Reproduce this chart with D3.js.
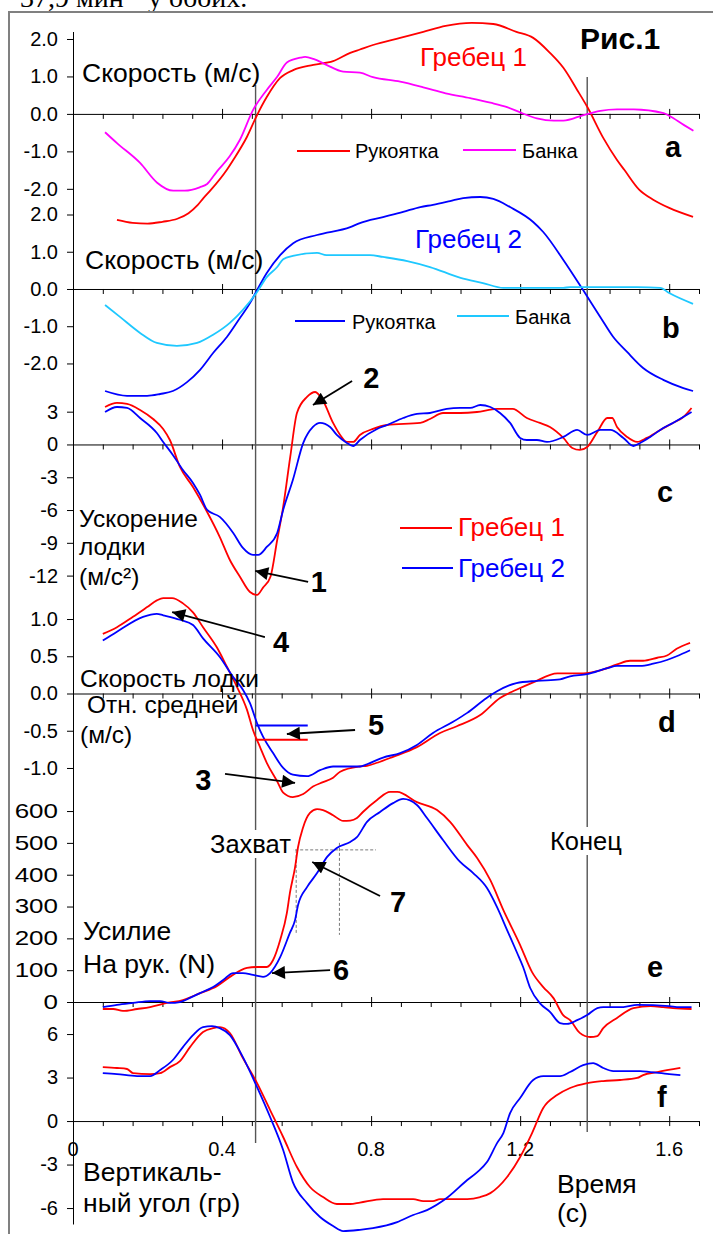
<!DOCTYPE html>
<html>
<head>
<meta charset="utf-8">
<script src="https://cdn.jsdelivr.net/npm/d3@7"></script>
<style>
  body { margin: 0; background: #fff; }
  svg { display: block; }
</style>
</head>
<body>
<svg id="chart" width="713" height="1234"></svg>
<script>
// ---- data: [time (s), value] ----
const handleSpeed1 = [[0.118,-2.83],[0.16,-2.91],[0.2,-2.93],[0.24,-2.88],[0.28,-2.8],[0.31,-2.65],[0.335,-2.43],[0.35,-2.25],[0.37,-2.03],[0.413,-1.49],[0.43,-1.23],[0.467,-0.61],[0.494,-0.03],[0.52,0.45],[0.556,0.96],[0.591,1.17],[0.645,1.31],[0.698,1.41],[0.744,1.63],[0.77,1.72],[0.805,1.84],[0.878,2.03],[0.94,2.19],[1.0,2.35],[1.07,2.43],[1.128,2.4],[1.19,2.19],[1.235,2.03],[1.28,1.63],[1.316,1.23],[1.353,0.64],[1.38,0.19],[1.423,-0.64],[1.46,-1.23],[1.48,-1.5],[1.52,-2.03],[1.557,-2.29],[1.6,-2.51],[1.664,-2.75]];
const seatSpeed1 = [[0.086,-0.49],[0.118,-0.78],[0.18,-1.31],[0.225,-1.83],[0.269,-2.05],[0.3,-2.05],[0.34,-1.96],[0.36,-1.87],[0.386,-1.54],[0.42,-1.14],[0.448,-0.69],[0.483,0.1],[0.52,0.64],[0.548,0.99],[0.574,1.37],[0.61,1.5],[0.623,1.52],[0.645,1.47],[0.68,1.31],[0.725,1.13],[0.77,1.1],[0.805,0.98],[0.878,0.86],[0.94,0.71],[1.0,0.55],[1.066,0.42],[1.12,0.3],[1.165,0.18],[1.2,0.04],[1.245,-0.12],[1.29,-0.18],[1.316,-0.18],[1.37,-0.03],[1.39,0.02],[1.415,0.08],[1.46,0.12],[1.505,0.12],[1.585,0.02],[1.6,-0.05],[1.64,-0.3],[1.665,-0.45]];
const handleSpeed2 = [[0.086,-2.74],[0.145,-2.87],[0.199,-2.87],[0.234,-2.82],[0.268,-2.74],[0.306,-2.5],[0.341,-2.17],[0.376,-1.72],[0.413,-1.29],[0.448,-0.78],[0.475,-0.38],[0.494,-0.03],[0.52,0.43],[0.556,0.91],[0.591,1.23],[0.655,1.45],[0.744,1.66],[0.77,1.77],[0.832,1.93],[0.886,2.07],[0.932,2.2],[0.966,2.26],[1.012,2.36],[1.047,2.44],[1.093,2.47],[1.128,2.42],[1.173,2.2],[1.235,1.8],[1.262,1.53],[1.316,0.78],[1.369,-0.03],[1.415,-0.75],[1.45,-1.29],[1.487,-1.69],[1.53,-2.12],[1.584,-2.44],[1.638,-2.66],[1.664,-2.74]];
const seatSpeed2 = [[0.086,-0.43],[0.126,-0.75],[0.18,-1.18],[0.225,-1.45],[0.279,-1.53],[0.333,-1.45],[0.376,-1.23],[0.421,-0.91],[0.456,-0.56],[0.494,-0.08],[0.52,0.32],[0.548,0.59],[0.564,0.8],[0.59,0.89],[0.655,0.97],[0.68,0.91],[0.77,0.91],[0.797,0.91],[0.832,0.86],[0.897,0.75],[0.958,0.59],[1.04,0.3],[1.1,0.16],[1.155,0.03],[1.316,0.03],[1.334,0.05],[1.514,0.05],[1.576,0.03],[1.6,-0.11],[1.664,-0.4]];
const boatAccel1 = [[0.086,3.43],[0.118,3.8],[0.145,3.71],[0.18,3.16],[0.215,2.33],[0.242,1.42],[0.26,0.41],[0.287,-2.06],[0.322,-3.89],[0.36,-6.18],[0.394,-8.47],[0.421,-10.57],[0.448,-12.1],[0.475,-13.5],[0.494,-13.77],[0.51,-13.1],[0.53,-12.1],[0.548,-8.74],[0.564,-5.72],[0.583,-1.14],[0.601,2.88],[0.628,4.35],[0.65,4.8],[0.67,4.07],[0.698,1.97],[0.717,0.87],[0.735,0.23],[0.752,0.23],[0.77,0.87],[0.805,1.42],[0.843,1.78],[0.932,1.97],[0.958,2.33],[0.993,2.88],[1.04,2.88],[1.084,2.97],[1.138,3.25],[1.18,3.25],[1.218,2.42],[1.253,1.97],[1.28,1.6],[1.316,0.6],[1.34,-0.32],[1.36,-0.5],[1.38,-0.23],[1.407,1.14],[1.434,2.42],[1.447,2.42],[1.46,1.6],[1.487,0.69],[1.514,0.23],[1.54,0.6],[1.576,1.33],[1.61,1.97],[1.638,2.51],[1.66,3.34]];
const boatAccel2 = [[0.086,2.97],[0.118,3.43],[0.145,3.34],[0.18,2.42],[0.225,1.05],[0.242,0.23],[0.268,-0.96],[0.295,-2.33],[0.322,-3.52],[0.341,-4.62],[0.36,-5.99],[0.394,-6.63],[0.43,-8.1],[0.456,-9.47],[0.483,-10.11],[0.497,-10.11],[0.52,-9.38],[0.548,-8.1],[0.564,-5.99],[0.59,-3.25],[0.618,0.14],[0.644,1.6],[0.663,1.97],[0.69,1.6],[0.708,0.87],[0.735,0.14],[0.752,-0.14],[0.77,0.41],[0.816,1.42],[0.843,1.78],[0.886,2.42],[0.923,2.79],[0.958,2.88],[1.003,3.25],[1.039,3.34],[1.066,3.34],[1.093,3.61],[1.12,3.43],[1.146,2.88],[1.173,1.97],[1.2,0.6],[1.218,0.41],[1.245,0.41],[1.272,0.23],[1.316,0.69],[1.353,1.33],[1.38,0.87],[1.415,1.33],[1.442,1.33],[1.477,0.6],[1.504,-0.14],[1.522,0.14],[1.549,0.69],[1.584,1.51],[1.61,1.97],[1.66,2.97]];
const boatSpeed1 = [[0.08,0.8],[0.118,0.89],[0.161,1.03],[0.199,1.16],[0.225,1.25],[0.242,1.28],[0.266,1.28],[0.295,1.21],[0.322,1.09],[0.349,0.89],[0.386,0.62],[0.413,0.36],[0.44,0.09],[0.467,-0.22],[0.483,-0.49],[0.502,-0.72],[0.52,-0.93],[0.548,-1.18],[0.564,-1.33],[0.59,-1.39],[0.618,-1.35],[0.644,-1.25],[0.671,-1.19],[0.698,-1.13],[0.717,-1.05],[0.77,-0.98],[0.789,-0.97],[0.816,-0.93],[0.859,-0.85],[0.923,-0.72],[0.985,-0.53],[1.03,-0.44],[1.093,-0.29],[1.146,-0.06],[1.19,0.05],[1.235,0.15],[1.3,0.27],[1.369,0.27],[1.415,0.31],[1.46,0.39],[1.495,0.44],[1.53,0.44],[1.568,0.48],[1.594,0.51],[1.62,0.6],[1.656,0.68]];
const boatSpeed2 = [[0.08,0.71],[0.118,0.83],[0.188,1.03],[0.225,1.07],[0.242,1.05],[0.287,0.99],[0.322,0.92],[0.349,0.74],[0.394,0.49],[0.43,0.22],[0.456,0.05],[0.475,-0.13],[0.494,-0.4],[0.51,-0.58],[0.537,-0.8],[0.564,-1.0],[0.59,-1.09],[0.628,-1.11],[0.663,-1.03],[0.698,-0.98],[0.77,-0.98],[0.789,-0.95],[0.832,-0.86],[0.878,-0.8],[0.923,-0.69],[0.966,-0.53],[1.02,-0.38],[1.058,-0.26],[1.11,-0.06],[1.138,0.03],[1.19,0.14],[1.245,0.17],[1.307,0.19],[1.334,0.23],[1.38,0.26],[1.434,0.34],[1.46,0.37],[1.522,0.37],[1.557,0.4],[1.594,0.45],[1.62,0.5],[1.656,0.58]];
const handleForce1 = [[0.08,-22],[0.108,-22],[0.134,-28],[0.172,-22],[0.207,-16],[0.252,-3],[0.295,6],[0.341,28],[0.386,50],[0.421,79],[0.467,107],[0.494,110],[0.52,110],[0.537,132],[0.556,195],[0.574,280],[0.582,342],[0.596,424],[0.604,487],[0.617,547],[0.636,594],[0.655,606],[0.671,603],[0.698,587],[0.725,569],[0.744,570],[0.762,578],[0.778,597],[0.816,635],[0.851,660],[0.87,660],[0.923,628],[0.977,603],[1.012,566],[1.058,493],[1.085,452],[1.12,383],[1.155,289],[1.2,179],[1.232,94],[1.262,47],[1.289,13],[1.316,-42],[1.334,-57],[1.36,-97],[1.388,-110],[1.407,-107],[1.423,-82],[1.46,-50],[1.504,-19],[1.55,-13],[1.584,-16],[1.61,-19],[1.66,-22]];
const handleForce2 = [[0.08,-16],[0.118,-9],[0.161,-3],[0.207,3],[0.234,3],[0.26,-3],[0.287,0],[0.314,13],[0.341,28],[0.376,47],[0.403,69],[0.43,91],[0.456,91],[0.483,85],[0.51,79],[0.529,91],[0.556,141],[0.582,217],[0.596,258],[0.604,305],[0.628,361],[0.655,405],[0.682,456],[0.708,484],[0.744,503],[0.762,518],[0.789,566],[0.824,597],[0.859,625],[0.886,638],[0.923,619],[0.95,578],[0.993,509],[1.039,440],[1.074,405],[1.111,358],[1.138,298],[1.165,226],[1.192,154],[1.208,110],[1.227,44],[1.254,-5],[1.28,-31],[1.307,-66],[1.326,-69],[1.353,-57],[1.38,-41],[1.407,-19],[1.423,-16],[1.477,-16],[1.514,-9],[1.6,-13],[1.628,-16],[1.66,-16]];
const vertAngle1 = [[0.08,3.72],[0.118,3.66],[0.145,3.59],[0.161,3.31],[0.207,3.24],[0.234,3.31],[0.26,3.72],[0.287,4.14],[0.314,5.1],[0.349,6.14],[0.376,6.41],[0.394,6.48],[0.421,6.07],[0.456,4.34],[0.494,2.62],[0.529,0.76],[0.564,-1.1],[0.601,-3.17],[0.636,-4.55],[0.671,-5.24],[0.708,-5.72],[0.744,-5.72],[0.77,-5.62],[0.832,-5.38],[0.913,-5.38],[0.94,-5.52],[0.966,-5.52],[0.985,-5.38],[1.058,-5.38],[1.093,-5.24],[1.12,-4.97],[1.165,-3.86],[1.2,-2.48],[1.232,-0.83],[1.262,0.9],[1.299,1.79],[1.334,2.28],[1.38,2.62],[1.423,2.76],[1.468,2.83],[1.514,2.97],[1.53,3.17],[1.568,3.38],[1.63,3.66]];
const vertAngle2 = [[0.08,3.31],[0.118,3.24],[0.172,3.1],[0.207,3.1],[0.234,3.52],[0.268,4.21],[0.295,5.1],[0.322,5.93],[0.349,6.48],[0.373,6.55],[0.394,6.41],[0.421,5.93],[0.456,4.41],[0.494,2.34],[0.529,0.28],[0.564,-2.0],[0.59,-4.21],[0.628,-5.66],[0.663,-6.62],[0.698,-7.24],[0.725,-7.59],[0.77,-7.5],[0.805,-7.38],[0.87,-6.97],[0.913,-6.48],[0.95,-6.14],[1.003,-5.31],[1.058,-4.07],[1.085,-3.52],[1.111,-2.83],[1.138,-1.52],[1.155,-0.83],[1.173,0.55],[1.2,1.59],[1.235,2.83],[1.262,3.1],[1.307,3.1],[1.334,3.38],[1.369,3.86],[1.396,4.0],[1.423,3.66],[1.45,3.45],[1.522,3.45],[1.549,3.38],[1.6,3.24],[1.63,3.17]];

// catch / finish moments, and the reference levels of mark 5 and mark 7
const catchTime = 0.49;
const finishTime = 1.38;
const catchSpeedDrop = [-0.62, -0.43];   // rower 1, rower 2
const forceLevel = 478;
const forceLevelTimes = [0.599, 0.715];

// ticks
const timeTicks = d3.range(0, 22).map(i => +(i * 0.08).toFixed(2));
const timeLabels = [0, 0.4, 0.8, 1.2, 1.6];
const speedTicks = [2, 1, 0, -1, -2];
const accelTicks = [3, 0, -3, -6, -9, -12];
const boatTicks = [1, 0.5, 0, -0.5, -1];
const forceTicks = [600, 500, 400, 300, 200, 100, 0];
const angleTicks = [6, 3, 0, -3, -6];

// ---- drawing ----
const FONT = "'Liberation Sans', Arial, sans-serif";
const RED = "#ff0000", MAGENTA = "#ff00ff", BLUE = "#0000ff", CYAN = "#1ec8ff";

const svg = d3.select("#chart").attr("font-family", FONT);

svg.append("defs").append("marker")
  .attr("id", "arrow")
  .attr("viewBox", "0 0 10 10")
  .attr("refX", 10).attr("refY", 5)
  .attr("markerUnits", "userSpaceOnUse")
  .attr("markerWidth", 16).attr("markerHeight", 13)
  .attr("orient", "auto")
  .append("path").attr("d", "M0,0L10,5L0,10Z").attr("fill", "#000");

// line of text above the frame (cut by the page edge in the original too)
svg.append("text")
  .attr("x", 20).attr("y", 7)
  .attr("font-family", "'Liberation Serif', 'Times New Roman', serif")
  .attr("font-size", 28)
  .text("37,9 мин⁻¹ у обоих.");

svg.append("path")
  .attr("d", "M9,1234V12H713")
  .attr("fill", "none").attr("stroke", "#808080").attr("stroke-width", 2);

const x = d3.scaleLinear().domain([0, 1.68]).range([73, 699]);

// hyphen-minus like the original, not the typographic minus
const fmt = spec => { const f = d3.format(spec); return v => f(v).replace("\u2212", "-"); };

const panels = [
  { id: "a", domain: [-3.5, 2.2], range: [245, 31.5], ticks: speedTicks, fmt: fmt(".1f"),
    series: [{ data: handleSpeed1, color: RED }, { data: seatSpeed1, color: MAGENTA }] },
  { id: "b", domain: [-3.0, 2.25], range: [400.7, 205.2], ticks: speedTicks, fmt: fmt(".1f"),
    series: [{ data: handleSpeed2, color: BLUE }, { data: seatSpeed2, color: CYAN }] },
  { id: "c", domain: [-13.5, 6.1], range: [592, 377.8], ticks: accelTicks, fmt: fmt("d"),
    series: [{ data: boatAccel1, color: RED }, { data: boatAccel2, color: BLUE }] },
  { id: "d", domain: [-1.45, 1.45], range: [801.5, 585.5], ticks: boatTicks, fmt: fmt(".1f"),
    series: [{ data: boatSpeed1, color: RED }, { data: boatSpeed2, color: BLUE }] },
  { id: "e", domain: [-120, 680], range: [1040.2, 785.6], ticks: forceTicks, fmt: fmt("d"), stretch: 1.3,
    series: [{ data: handleForce1, color: RED }, { data: handleForce2, color: BLUE }] },
  { id: "f", domain: [-7.1, 7.5], range: [1224, 1012.3], ticks: angleTicks, fmt: fmt("d"),
    series: [{ data: vertAngle1, color: RED }, { data: vertAngle2, color: BLUE }] },
];

const isMajor = t => Math.abs(t / 0.4 - Math.round(t / 0.4)) < 1e-6;

panels.forEach(p => {
  p.y = d3.scaleLinear().domain(p.domain).range(p.range);
  const g = svg.append("g").attr("class", "panel panel-" + p.id);

  const yAxis = g.append("g")
    .attr("transform", `translate(${x(0)},0)`)
    .call(d3.axisLeft(p.y).tickValues(p.ticks).tickFormat(p.fmt)
      .tickSize(6).tickSizeOuter(0).tickPadding(9));
  yAxis.selectAll("text").attr("font-size", 20).attr("font-family", FONT).attr("fill", "#000");
  if (p.stretch) {
    // the force chart was pasted wider in the original: its labels look stretched
    yAxis.selectAll("text").attr("x", 0).attr("transform", `translate(-15,0) scale(${p.stretch},1)`);
  }
  yAxis.selectAll("line, .domain").attr("stroke", "#000");

  const xAxis = g.append("g")
    .attr("transform", `translate(0,${p.y(0)})`)
    .call(d3.axisBottom(x).tickValues(timeTicks).tickFormat("")
      .tickSize(5).tickSizeOuter(0));
  xAxis.selectAll(".tick line").filter(d => isMajor(d) && d > 0).attr("y1", -5);
  xAxis.selectAll("line, .domain").attr("stroke", "#000");
});

const P = Object.fromEntries(panels.map(p => [p.id, p]));

// time labels under the last panel
svg.append("g").selectAll("text")
  .data(timeLabels)
  .join("text")
  .attr("x", d => x(d))
  .attr("y", 1156)
  .attr("text-anchor", "middle")
  .attr("font-size", 20)
  .text(d => d === 0 ? "0" : d3.format(".1f")(d));

// catch and finish lines
svg.append("line")
  .attr("x1", x(catchTime)).attr("x2", x(catchTime))
  .attr("y1", 85).attr("y2", 1143)
  .attr("stroke", "#555").attr("stroke-width", 1.4);
svg.append("line")
  .attr("x1", x(finishTime)).attr("x2", x(finishTime))
  .attr("y1", 77).attr("y2", 1132)
  .attr("stroke", "#555").attr("stroke-width", 1.4);

// guide lines for mark 7 (dashed)
const e = P.e;
const guide = svg.append("g")
  .attr("stroke", "#555").attr("stroke-width", 0.8).attr("stroke-dasharray", "3,2");
guide.append("line")
  .attr("x1", x(0.556)).attr("x2", x(0.813))
  .attr("y1", e.y(forceLevel)).attr("y2", e.y(forceLevel));
forceLevelTimes.forEach((t, i) => {
  guide.append("line")
    .attr("x1", x(t)).attr("x2", x(t))
    .attr("y1", e.y(i === 0 ? forceLevel : 500)).attr("y2", e.y(211));
});

// series
const line = y => d3.line().x(d => x(d[0])).y(d => y(d[1])).curve(d3.curveMonotoneX);
panels.forEach(p => {
  svg.append("g").selectAll("path")
    .data(p.series)
    .join("path")
    .attr("d", s => line(p.y)(s.data))
    .attr("fill", "none")
    .attr("stroke", s => s.color)
    .attr("stroke-width", 1.8);
});

// mark 5: speed at catch
const d = P.d;
svg.append("g").selectAll("line")
  .data(catchSpeedDrop)
  .join("line")
  .attr("x1", x(catchTime)).attr("x2", x(0.63))
  .attr("y1", v => d.y(v)).attr("y2", v => d.y(v))
  .attr("stroke", (v, i) => i === 0 ? RED : BLUE)
  .attr("stroke-width", 2);

// text labels
function label(txt, px, py, opts = {}) {
  return svg.append("text")
    .attr("x", px).attr("y", py)
    .attr("font-size", opts.size || 26.5)
    .attr("font-weight", opts.bold ? "bold" : null)
    .attr("fill", opts.color || "#000")
    .text(txt);
}

function boxedLabel(txt, px, py, size) {
  const t = label(txt, px, py, { size });
  const b = t.node().getBBox();
  svg.insert("rect", () => t.node())
    .attr("x", b.x - 2).attr("y", b.y).attr("width", b.width + 4).attr("height", b.height)
    .attr("fill", "#fff");
}

label("Рис.1", 580, 49, { size: 30, bold: true });
label("Скорость (м/с)", 82, 82);
label("Гребец 1", 420, 66, { size: 26, color: RED });
label("Скорость (м/с)", 85, 269);
label("Гребец 2", 415, 248, { size: 26, color: BLUE });
label("Ускорение", 79, 527, { size: 24.5 });
label("лодки", 79, 555, { size: 24.5 });
label("(м/с²)", 79, 585, { size: 24.5 });
label("Скорость лодки", 80, 687, { size: 24.5 });
label("Отн. средней", 87, 713, { size: 24.5 });
label("(м/с)", 80, 743, { size: 24.5 });
boxedLabel("Захват", 210, 853, 25.5);
boxedLabel("Конец", 550, 850, 25.5);
label("Усилие", 83, 940);
label("На рук. (N)", 83, 973);
label("Вертикаль-", 83, 1181);
label("ный угол (гр)", 83, 1212);
label("Время", 557, 1193);
label("(с)", 557, 1222);

// panel letters
[["a", 665, 157], ["b", 662, 338], ["c", 657, 502], ["d", 658, 732], ["e", 647, 977], ["f", 657, 1107]]
  .forEach(([t, px, py]) => label(t, px, py, { size: 29, bold: true }));

// legends
function legendItem(color, x1, x2, ly, txt, tx, ty, size, txtColor) {
  svg.append("line").attr("x1", x1).attr("x2", x2).attr("y1", ly).attr("y2", ly)
    .attr("stroke", color).attr("stroke-width", 1.8);
  label(txt, tx, ty, { size, color: txtColor || "#000" });
}
legendItem(RED, 297, 350, 151, "Рукоятка", 355, 158, 20);
legendItem(MAGENTA, 463, 516, 150, "Банка", 522, 158, 20);
legendItem(BLUE, 295, 345, 321, "Рукоятка", 352, 329, 20);
legendItem(CYAN, 457, 509, 316, "Банка", 515, 324, 20);
legendItem(RED, 400, 452, 528, "Гребец 1", 458, 536, 26, RED);
legendItem(BLUE, 402, 453, 568, "Гребец 2", 458, 577, 26, BLUE);

// numbered arrows (positions in data units of their panel)
const arrows = [
  { p: "c", n: "1", from: [0.631, -12.58], to: [0.489, -11.57], at: [0.638, -13.5] },
  { p: "c", n: "2", from: [0.749, 5.81], to: [0.644, 3.61], at: [0.779, 5.17] },
  { p: "d", n: "3", from: [0.408, -1.08], to: [0.596, -1.2], at: [0.328, -1.295] },
  { p: "d", n: "4", from: [0.515, 0.758], to: [0.266, 1.094], at: [0.537, 0.557] },
  { p: "d", n: "5", from: [0.757, -0.49], to: [0.574, -0.544], at: [0.792, -0.557] },
  { p: "e", n: "6", from: [0.69, 100], to: [0.534, 91], at: [0.698, 69] },
  { p: "e", n: "7", from: [0.824, 333], to: [0.642, 440], at: [0.851, 283] },
];
arrows.forEach(a => {
  const y = P[a.p].y;
  svg.append("line")
    .attr("x1", x(a.from[0])).attr("y1", y(a.from[1]))
    .attr("x2", x(a.to[0])).attr("y2", y(a.to[1]))
    .attr("stroke", "#000").attr("stroke-width", 1.8)
    .attr("marker-end", "url(#arrow)");
  label(a.n, x(a.at[0]), y(a.at[1]), { size: 29, bold: true });
});
</script>
</body>
</html>
